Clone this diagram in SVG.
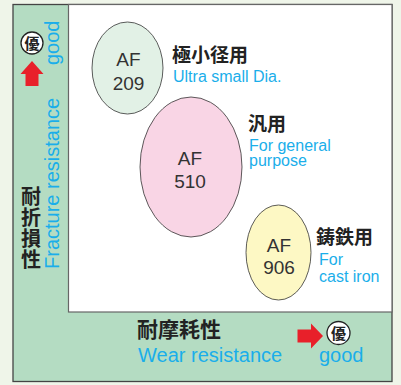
<svg xmlns="http://www.w3.org/2000/svg" width="401" height="385" viewBox="0 0 401 385">
<style>
.jp{font-family:"Noto Sans CJK JP","Noto Sans CJK SC",sans-serif;font-weight:bold;fill:#222}
.en{font-family:"Liberation Sans",Arial,sans-serif;fill:#1aaeea}
.af{font-family:"Liberation Sans",Arial,sans-serif;fill:#333;font-size:19px;text-anchor:middle}
.node{stroke:#333;stroke-width:0.8}
.arrow{fill:#e8202a}
.badge{fill:#fff;stroke:#222;stroke-width:1.3}
</style>
<rect x="0" y="0" width="401" height="385" fill="#eff5e9"/>
<g id="panel">
<rect x="13" y="4.5" width="379" height="377" fill="#b4dcc2" stroke="#444" stroke-width="1.3"/>
<rect x="68.5" y="4.5" width="323.5" height="307.5" fill="#fff" stroke="#666" stroke-width="1.2"/>
</g>
<g id="node-af209">
<ellipse class="node" cx="127.5" cy="68" rx="35.5" ry="46" fill="#e2f1e6"/>
<text class="af" x="128.5" y="66">AF</text>
<text class="af" x="128.5" y="90">209</text>
<text class="jp" x="172" y="62" font-size="19">極小径用</text>
<text class="en" x="173" y="81.5" font-size="16">Ultra small Dia.</text>
</g>
<g id="node-af510">
<ellipse class="node" cx="191" cy="167" rx="51" ry="70" fill="#f9d5e5"/>
<text class="af" x="190" y="165">AF</text>
<text class="af" x="190" y="188">510</text>
<text class="jp" x="248" y="131" font-size="19">汎用</text>
<text class="en" x="249" y="150.5" font-size="16">For general</text>
<text class="en" x="249" y="166" font-size="16">purpose</text>
</g>
<g id="node-af906">
<ellipse class="node" cx="278.5" cy="252.5" rx="32.5" ry="47.5" fill="#fdf8c4"/>
<text class="af" x="279" y="251.5">AF</text>
<text class="af" x="279" y="274">906</text>
<text class="jp" x="316" y="244" font-size="19">鋳鉄用</text>
<text class="en" x="319" y="265" font-size="16">For</text>
<text class="en" x="319" y="281.5" font-size="16">cast iron</text>
</g>
<g id="axis-y">
<circle class="badge" cx="32" cy="43" r="11"/>
<text class="jp" x="32" y="48.5" font-size="15" text-anchor="middle">優</text>
<polygon class="arrow" points="32,61 43.5,74 38.5,74 38.5,86 25.5,86 25.5,74 20.5,74"/>
<text class="en" font-size="20" transform="translate(58.5,65) rotate(-90)">good</text>
<text class="en" font-size="20" transform="translate(58.5,269) rotate(-90)">Fracture resistance</text>
<text class="jp" font-size="20" x="31" y="186" writing-mode="vertical-rl" letter-spacing="1">耐折損性</text>
</g>
<g id="axis-x">
<text class="jp" x="137" y="337" font-size="21">耐摩耗性</text>
<text class="en" x="138" y="361.5" font-size="20">Wear resistance</text>
<polygon class="arrow" points="323,336 311,323.5 311,329.5 297.5,329.5 297.5,342.5 311,342.5 311,348.5"/>
<circle class="badge" cx="338.5" cy="333" r="11.5"/>
<text class="jp" x="338.5" y="338.5" font-size="15" text-anchor="middle">優</text>
<text class="en" x="319" y="362" font-size="20">good</text>
</g>
<g id="connectors"/>
</svg>
